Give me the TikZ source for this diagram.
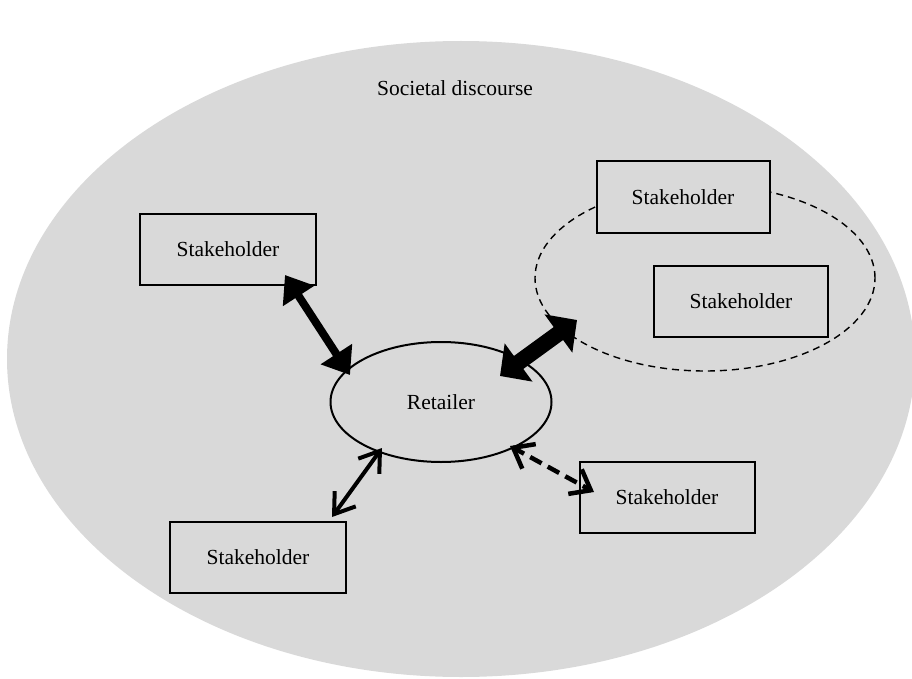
\documentclass[tikz,border=0pt]{standalone}
\usepackage{fontspec}
\setmainfont{Liberation Serif}
\usetikzlibrary{arrows.meta,shapes.geometric}
\definecolor{bggray}{HTML}{D9D9D9}
\tikzset{
  every node/.style={font=\fontsize{21.5}{25}\selectfont},
  stakebox/.style={draw, fill=bggray, line width=2pt, minimum width=176pt, minimum height=71pt, inner sep=0pt},
  heavyarrow/.style={line width=8pt, {Triangle[length=25pt,width=36pt]}-{Triangle[length=25pt,width=36pt]}},
  hugearrow/.style={line width=16pt, {Triangle[length=23pt,width=46pt]}-{Triangle[length=23pt,width=46pt]}},
  thinarrow/.style={line width=4pt, {Straight Barb[length=19pt,width=26pt]}-{Straight Barb[length=19pt,width=26pt]}},
  dashshaft/.style={line width=4.5pt, dash pattern=on 13pt off 7pt, shorten <=3pt, shorten >=3pt},
  dashtips/.style={tips, solid, line width=4.5pt, {Straight Barb[length=18pt,width=28pt]}-{Straight Barb[length=18pt,width=28pt]}}
}
\begin{document}
\begin{tikzpicture}[x=1pt,y=-1pt]
\useasboundingbox (0,0) rectangle (912,679);
\begin{scope}
\clip (0,0) rectangle (912,679);
\fill[bggray] (461,359) ellipse [x radius=454, y radius=318];
\end{scope}
\node (soc) at (455,88) {Societal discourse};
\node[draw, dash pattern=on 7pt off 5pt, line width=1.4pt, ellipse, minimum width=340pt, minimum height=186pt] (grp) at (705,278) {};
\node[draw, ellipse, line width=2pt, minimum width=221pt, minimum height=120pt] (ret) at (441,402) {Retailer};
\node[stakebox] (s1) at (228,249) {Stakeholder};
\node[stakebox, minimum width=173pt] (s2) at (683,197) {Stakeholder};
\node[stakebox, minimum width=174pt] (s3) at (741,301) {Stakeholder};
\node[stakebox, minimum width=175pt] (s4) at (667,497) {Stakeholder};
\node[stakebox] (s5) at (258,557) {Stakeholder};
\coordinate (a1s) at (285,275);
\coordinate (a1e) at (350,375);
\coordinate (a2s) at (500,376);
\coordinate (a2e) at (577,320);
\coordinate (a3s) at (382,448);
\coordinate (a3e) at (332,517);
\coordinate (a4s) at (510,446);
\coordinate (a4e) at (594,492);
\draw[heavyarrow] (a1s) -- (a1e);
\draw[hugearrow] (a2s) -- (a2e);
\draw[thinarrow] (a3s) -- (a3e);
\draw[dashshaft] (a4s) -- (a4e);
\path[dashtips] (a4s) -- (a4e);
\end{tikzpicture}
\end{document}
